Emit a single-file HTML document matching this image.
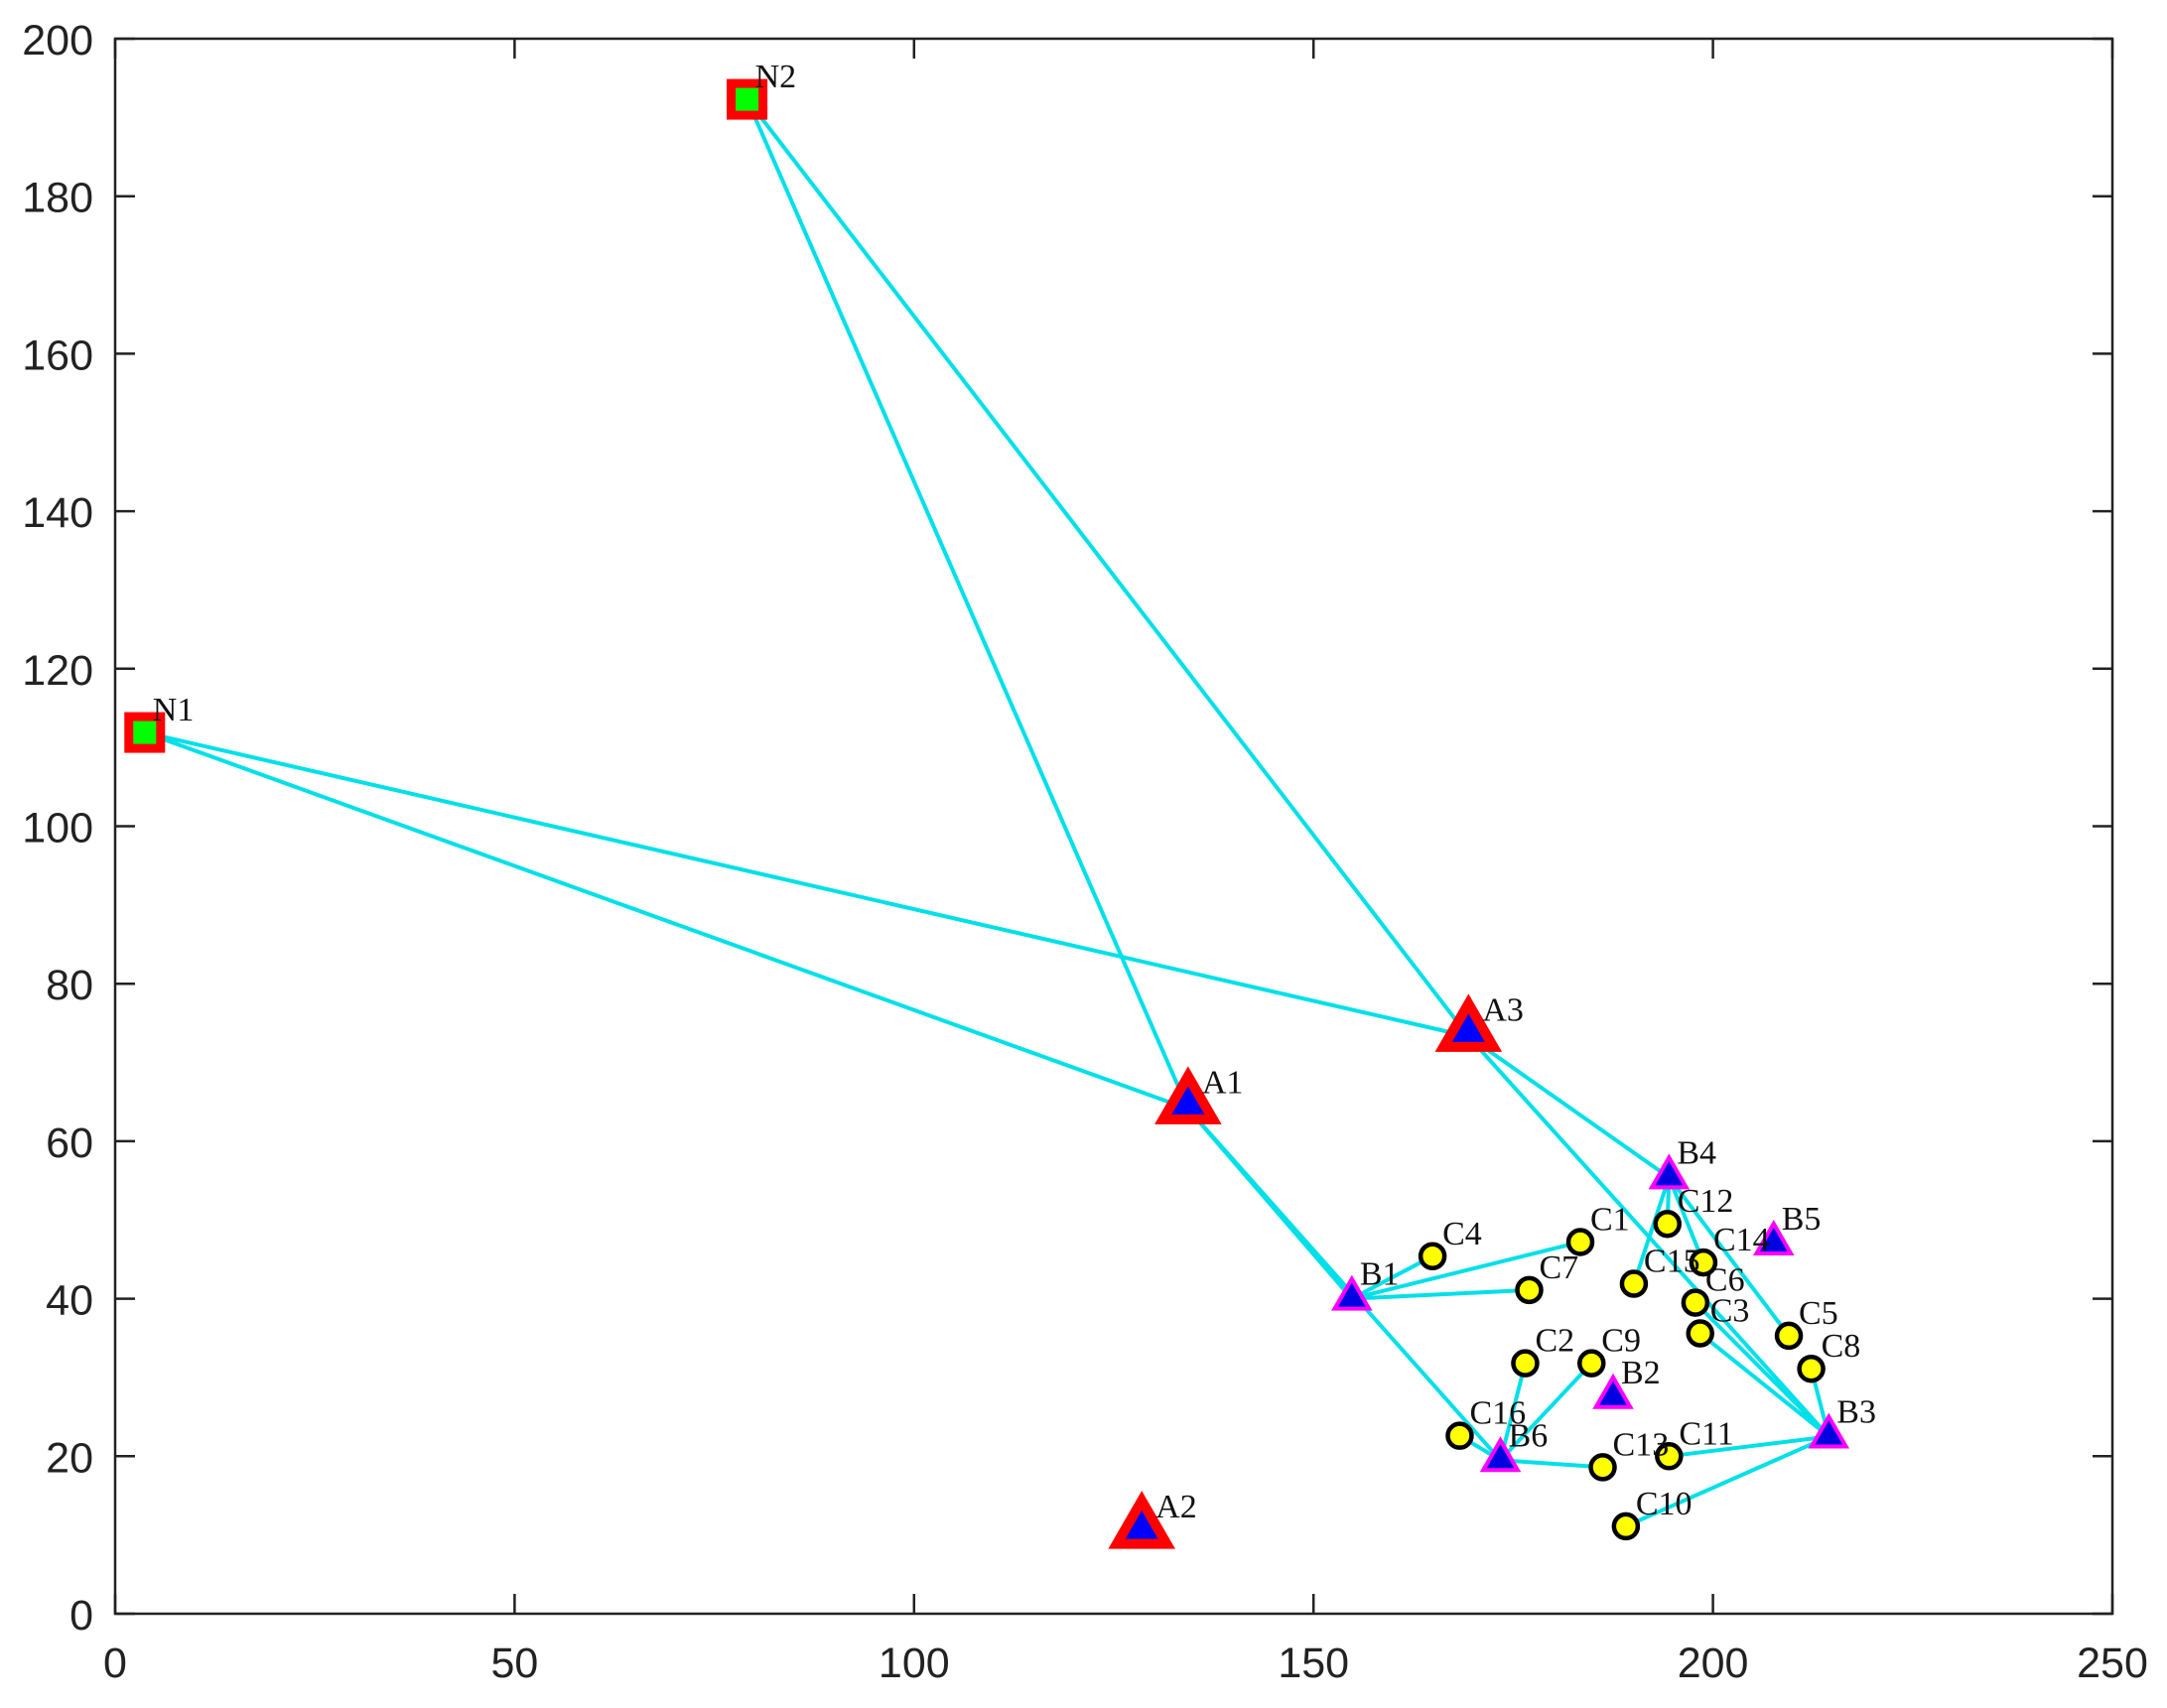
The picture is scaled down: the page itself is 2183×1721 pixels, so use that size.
<!DOCTYPE html>
<html><head><meta charset="utf-8"><style>
html,body{margin:0;padding:0;background:#fff;}
svg{display:block;}
.tick{font-family:"Liberation Sans",sans-serif;font-size:43px;fill:#222;}
.lbl{font-family:"Liberation Serif",serif;font-size:34px;fill:#111;}
</style></head><body>
<svg id="chart" width="2183" height="1721" viewBox="0 0 2183 1721" xmlns="http://www.w3.org/2000/svg">
<g id="links"></g>
<g id="marks"></g>
<g id="axes"></g>
</svg>
<script>
const nodeNames = ["N1","N2","A1","A2","A3","B1","B2","B3","B4","B5","B6","C1","C2","C3","C4","C5","C6","C7","C8","C9","C10","C11","C12","C13","C14","C15","C16"];
const nodeX = [3.7,79.1,134.3,128.5,169.4,154.8,187.5,214.5,194.5,207.6,173.4,183.4,176.5,198.4,164.9,209.5,197.8,177.0,212.3,184.8,189.1,194.5,194.3,186.2,198.8,190.1,168.3];
const nodeY = [111.9,192.3,64.1,10.2,73.3,40.0,27.5,22.5,55.4,47.0,19.5,47.2,31.8,35.6,45.4,35.3,39.5,41.1,31.1,31.8,11.1,20.0,49.5,18.6,44.6,41.9,22.6];
const edgeFrom = ["N1","N1","N2","N2","A1","A1","A3","A3","B1","B1","B1","B6","B6","B6","B6","B3","B3","B3","B3","B3","B4","B4","B4","B4"];
const edgeTo   = ["A1","A3","A1","A3","B1","B6","B4","B3","C4","C1","C7","C16","C2","C9","C13","C11","C10","C8","C3","C6","C12","C15","C14","C5"];
const xTicks = [0,50,100,150,200,250];
const yTicks = [0,20,40,60,80,100,120,140,160,180,200];

const L=116,R=2128,T=39,B=1626;
const sx=v=>L+(v-0)/(250-0)*(R-L);
const sy=v=>B-(v-0)/(200-0)*(B-T);
const NS="http://www.w3.org/2000/svg";
function mk(tag,parent,attrs){const e=document.createElementNS(NS,tag);for(const k in attrs)e.setAttribute(k,attrs[k]);parent.appendChild(e);return e;}
const links=document.getElementById('links'),marks=document.getElementById('marks'),axes=document.getElementById('axes');
const idx=n=>nodeNames.indexOf(n);

for(let i=0;i<edgeFrom.length;i++){
  const a=idx(edgeFrom[i]),b=idx(edgeTo[i]);
  const l=mk('line',links,{x1:sx(nodeX[a]),y1:sy(nodeY[a]),x2:sx(nodeX[b]),y2:sy(nodeY[b]),stroke:'#00e0e8','stroke-width':4});
  
  
}
function tri(cx,cy,r){const h=r*Math.sqrt(3)/2;return `${cx},${cy-r} ${cx-h},${cy+r/2} ${cx+h},${cy+r/2}`;}
for(let i=0;i<nodeNames.length;i++){
  const n=nodeNames[i],x=sx(nodeX[i]),y=sy(nodeY[i]);
  const g=mk('g',marks,{});
  
  
  let dx=12,dy=-12;
  if(n[0]==='N'){mk('rect',g,{x:x-16,y:y-16,width:32,height:32,fill:'#00ff00',stroke:'#ff0000','stroke-width':9});dx=8;dy=-12;}
  else if(n[0]==='A'){mk('polygon',g,{points:tri(x,y-4,29),fill:'#0000ff',stroke:'#ff0000','stroke-width':10,'stroke-linejoin':'miter'});dx=14;dy=-16;}
  else if(n[0]==='B'){mk('polygon',g,{points:tri(x,y,20),fill:'#0000e0',stroke:'#ff00ff','stroke-width':4});dx=8;dy=-14;}
  else {mk('circle',g,{cx:x,cy:y,r:12,fill:'#ffff00',stroke:'#000','stroke-width':4.5});dx=10;dy=-12;}
  const t=mk('text',g,{x:x+dx,y:y+dy,class:'lbl'});t.textContent=n;
}
// axes
mk('rect',axes,{x:L,y:T,width:R-L,height:B-T,fill:'none',stroke:'#222','stroke-width':2.5});
xTicks.forEach(v=>{
  const x=sx(v);
  mk('line',axes,{x1:x,y1:B,x2:x,y2:B-20,stroke:'#222','stroke-width':2.5});
  mk('line',axes,{x1:x,y1:T,x2:x,y2:T+20,stroke:'#222','stroke-width':2.5});
  const t=mk('text',axes,{x:x,y:1690,class:'tick','text-anchor':'middle'});t.textContent=v;
  
  
});
yTicks.forEach(v=>{
  const y=sy(v);
  mk('line',axes,{x1:L,y1:y,x2:L+20,y2:y,stroke:'#222','stroke-width':2.5});
  mk('line',axes,{x1:R,y1:y,x2:R-20,y2:y,stroke:'#222','stroke-width':2.5});
  const t=mk('text',axes,{x:94,y:y+16,class:'tick','text-anchor':'end'});t.textContent=v;
  
  
});
</script>
</body></html>
